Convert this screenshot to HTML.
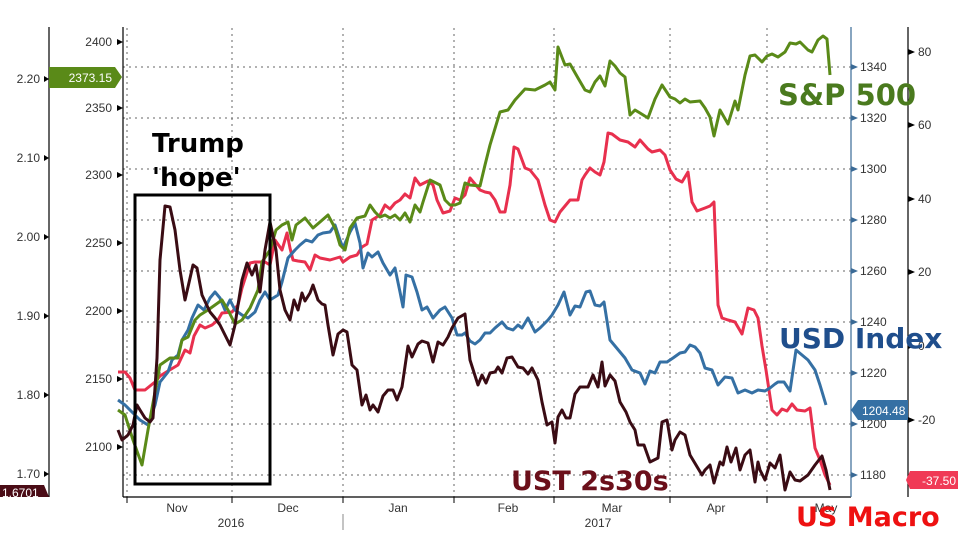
<!DOCTYPE html>
<html><head><meta charset="utf-8"><style>
body{margin:0;background:#fff;}
svg{display:block;font-family:"Liberation Sans",sans-serif;}
</style></head><body>
<svg width="969" height="540" viewBox="0 0 969 540">
<rect width="969" height="540" fill="#fff"/>
<g stroke="#666" stroke-width="1" stroke-dasharray="2,4">
<line x1="123" x2="851" y1="67" y2="67"/><line x1="123" x2="851" y1="118" y2="118"/><line x1="123" x2="851" y1="169" y2="169"/><line x1="123" x2="851" y1="220" y2="220"/><line x1="123" x2="851" y1="271" y2="271"/><line x1="123" x2="851" y1="322" y2="322"/><line x1="123" x2="851" y1="373" y2="373"/><line x1="123" x2="851" y1="424" y2="424"/><line x1="123" x2="851" y1="475" y2="475"/>
<line x1="127" x2="127" y1="28" y2="497"/><line x1="232" x2="232" y1="28" y2="497"/><line x1="343" x2="343" y1="28" y2="497"/><line x1="454" x2="454" y1="28" y2="497"/><line x1="554" x2="554" y1="28" y2="497"/><line x1="670" x2="670" y1="28" y2="497"/><line x1="767" x2="767" y1="28" y2="497"/>
</g>
<!-- axes -->
<g stroke="#000" stroke-width="1.2" fill="none">
<line x1="49" y1="27" x2="49" y2="497"/><line x1="123" y1="27" x2="123" y2="497"/><line x1="123" y1="497" x2="851" y2="497"/><line x1="908" y1="27" x2="908" y2="497"/>
</g>
<line x1="851" y1="27" x2="851" y2="497" stroke="#3a6a96" stroke-width="1.2"/>
<g stroke="#000" stroke-width="1">
<line x1="127" x2="127" y1="497" y2="503"/><line x1="232" x2="232" y1="497" y2="503"/><line x1="343" x2="343" y1="497" y2="503"/><line x1="454" x2="454" y1="497" y2="503"/><line x1="554" x2="554" y1="497" y2="503"/><line x1="670" x2="670" y1="497" y2="503"/><line x1="767" x2="767" y1="497" y2="503"/>
<line x1="343" x2="343" y1="514" y2="530" stroke="#888"/>
</g>
<g font-size="12" fill="#333">
<text x="177" y="512" text-anchor="middle">Nov</text><text x="288" y="512" text-anchor="middle">Dec</text><text x="398" y="512" text-anchor="middle">Jan</text><text x="508" y="512" text-anchor="middle">Feb</text><text x="612" y="512" text-anchor="middle">Mar</text><text x="716" y="512" text-anchor="middle">Apr</text><text x="826" y="512" text-anchor="middle">May</text>
<text x="231" y="527" text-anchor="middle">2016</text><text x="598" y="527" text-anchor="middle">2017</text>
</g>
<!-- left axis -->
<g font-size="12" fill="#333" text-anchor="end">
<text x="40" y="83">2.20</text><text x="40" y="162">2.10</text><text x="40" y="241">2.00</text><text x="40" y="320">1.90</text><text x="40" y="399">1.80</text><text x="40" y="478">1.70</text>
<text x="112" y="46">2400</text><text x="112" y="112">2350</text><text x="112" y="179">2300</text><text x="112" y="247">2250</text><text x="112" y="315">2200</text><text x="112" y="383">2150</text><text x="112" y="451">2100</text>
</g>
<g fill="#000">
<polygon points="49,79 44,76 44,82"/><polygon points="49,158 44,155 44,161"/><polygon points="49,237 44,234 44,240"/><polygon points="49,316 44,313 44,319"/><polygon points="49,395 44,392 44,398"/><polygon points="49,474 44,471 44,477"/>
<polygon points="123,42 117,39 117,45"/><polygon points="123,108 117,105 117,111"/><polygon points="123,175 117,172 117,178"/><polygon points="123,243 117,240 117,246"/><polygon points="123,311 117,308 117,314"/><polygon points="123,379 117,376 117,382"/><polygon points="123,447 117,444 117,450"/>
</g>
<g font-size="12" fill="#333">
<text x="860" y="71">1340</text><text x="860" y="122">1320</text><text x="860" y="173">1300</text><text x="860" y="224">1280</text><text x="860" y="275">1260</text><text x="860" y="326">1240</text><text x="860" y="377">1220</text><text x="860" y="428">1200</text><text x="860" y="479">1180</text>
<text x="918" y="56">80</text><text x="918" y="129">60</text><text x="918" y="203">40</text><text x="918" y="276">20</text><text x="918" y="350">0</text><text x="918" y="424">-20</text>
</g>
<g fill="#3a6a96"><polygon points="851,64 858,67 851,70"/><polygon points="851,115 858,118 851,121"/><polygon points="851,166 858,169 851,172"/><polygon points="851,217 858,220 851,223"/><polygon points="851,268 858,271 851,274"/><polygon points="851,319 858,322 851,325"/><polygon points="851,370 858,373 851,376"/><polygon points="851,421 858,424 851,427"/><polygon points="851,472 858,475 851,478"/></g>
<g fill="#000"><polygon points="908,49 915,52 908,55"/><polygon points="908,122 915,125 908,128"/><polygon points="908,196 915,199 908,202"/><polygon points="908,269 915,272 908,275"/><polygon points="908,343 915,346 908,349"/><polygon points="908,417 915,420 908,423"/></g>
<!-- series -->
<g fill="none" stroke-width="3" stroke-linejoin="round">
<polyline stroke="#e8304e" points="118,372 125,372 130,378 135,390 145,390 155,382 160,376 168,371 178,365 185,350 190,353 194,336 200,325 205,328 212,325 218,320 222,313 232,312 238,305 242,288 250,263 255,262 265,262 270,265 275,240 282,250 287,233 290,248 293,260 298,261 305,262 310,270 315,255 320,258 330,260 340,257 343,262 350,257 357,255 362,247 367,244 372,220 380,215 385,205 390,209 395,203 400,200 405,194 410,198 415,178 420,185 428,181 433,185 437,200 443,213 450,211 455,198 460,200 465,195 470,178 480,190 485,192 490,193 495,200 500,212 505,212 510,185 514,147 518,149 525,168 530,170 538,180 545,205 550,220 555,222 560,212 565,206 570,200 578,200 582,180 585,175 590,168 595,172 600,175 604,162 608,133 612,134 620,140 628,142 635,147 640,140 648,149 652,152 660,150 665,155 670,170 676,179 682,182 688,172 692,202 697,211 705,208 710,206 714,202 718,305 722,318 728,320 735,322 742,334 748,308 754,310 758,318 762,346 766,370 772,410 777,415 782,409 787,411 792,404 797,410 805,411 810,408 815,448 820,460 825,475 830,485"/>
<polyline stroke="#3570a4" points="118,400 125,405 135,415 140,420 148,425 155,405 160,382 168,372 172,360 178,355 182,340 188,330 192,318 198,305 204,310 210,298 215,292 220,298 225,310 230,300 235,310 242,315 248,318 255,312 260,300 265,292 270,300 278,295 282,282 288,258 295,250 300,245 306,240 312,242 318,235 323,233 330,232 335,225 340,240 343,248 350,232 355,223 360,243 363,268 368,253 372,257 378,252 383,263 390,275 395,268 400,292 403,307 406,275 412,277 417,292 422,310 427,307 433,318 440,310 445,307 452,318 457,335 462,335 465,333 470,341 475,344 480,340 485,333 490,333 495,328 502,322 507,328 513,330 518,325 522,328 528,318 535,332 540,328 548,320 552,315 558,305 564,292 570,315 575,306 580,307 586,292 590,291 595,305 600,306 604,302 610,340 620,352 625,358 632,370 640,373 645,384 650,371 655,373 660,362 667,362 673,358 680,353 685,352 690,345 695,347 700,353 705,368 712,370 718,385 725,377 732,378 738,393 745,390 752,393 758,390 765,391 770,388 775,384 778,382 784,382 790,391 796,350 802,355 808,360 815,370 820,385 826,405"/>
<polyline stroke="#5a8a18" points="118,410 125,415 133,440 142,465 148,430 160,365 170,358 178,358 182,340 188,337 195,320 200,315 208,310 215,305 222,300 228,310 235,324 242,320 250,308 258,290 262,262 270,250 276,230 282,225 288,222 292,240 296,225 305,218 313,228 320,222 328,215 335,228 340,245 345,250 350,228 357,218 365,216 370,205 375,212 380,217 385,215 390,218 395,215 400,220 405,213 410,222 415,205 420,212 423,202 430,180 440,185 445,200 450,205 455,205 460,203 465,183 470,185 480,186 485,165 490,145 500,112 508,110 515,100 525,89 535,90 545,85 550,82 555,90 558,47 565,65 570,64 578,78 585,90 590,92 595,82 600,76 605,86 610,61 615,66 620,73 625,77 630,115 635,110 640,113 648,118 655,99 662,85 670,97 675,99 680,103 685,99 690,102 700,101 705,108 710,117 714,136 720,110 728,124 735,101 738,110 745,75 750,56 755,55 762,62 767,56 772,54 778,57 785,52 790,43 796,44 800,42 808,50 812,52 818,40 823,36 827,39 830,75"/>
<polyline stroke="#3a0c14" points="118,430 122,440 128,435 133,425 137,405 140,410 145,418 150,422 153,418 157,358 160,260 165,206 170,207 175,230 180,270 185,300 188,287 193,265 197,268 202,295 210,312 215,318 220,325 225,335 230,345 235,325 238,305 242,280 247,263 252,275 256,265 260,292 265,250 270,222 276,250 280,290 285,310 290,320 294,300 298,310 302,293 305,301 310,293 313,285 318,300 322,304 325,305 328,325 333,355 338,334 343,330 347,332 352,365 357,370 362,405 366,395 370,410 373,405 378,412 383,396 388,390 393,390 397,400 402,387 408,346 412,357 418,344 422,341 428,343 433,362 438,342 443,345 448,337 452,328 458,318 465,314 470,360 478,385 482,375 486,383 490,373 495,372 498,367 502,373 507,358 512,357 518,367 523,368 528,374 532,368 538,380 542,402 547,425 552,422 555,443 558,417 562,410 566,418 570,418 575,394 580,387 588,387 593,375 598,387 602,362 605,386 610,375 615,381 620,402 626,412 630,422 635,430 638,445 644,445 650,462 658,458 662,422 667,420 672,450 675,440 680,432 685,435 690,455 696,465 702,475 705,470 710,465 714,483 720,462 723,465 727,447 731,462 736,448 740,470 745,455 750,450 755,482 758,462 760,470 765,480 770,463 775,468 780,455 785,490 790,472 795,480 800,481 808,475 815,465 822,456 826,470 830,490"/>
</g>
<!-- badges -->
<polygon points="49,67 115,67 122,77 115,88 49,88" fill="#5a8a18"/>
<text x="112" y="82" font-size="12" fill="#fff" text-anchor="end">2373.15</text>
<polygon points="0,485 44,485 49,497 0,497" fill="#4a0c16"/>
<text x="2" y="497" font-size="12" fill="#fff">1.6701</text>
<polygon points="851,410 858,400 908,400 908,420 858,420" fill="#3570a4"/>
<text x="862" y="415" font-size="12" fill="#fff">1204.48</text>
<polygon points="910,471 958,471 958,489 910,489 906,480" fill="#f03a56"/>
<text x="922" y="485" font-size="12" fill="#fff">-37.50</text>
<!-- annotations -->
<rect x="135" y="195" width="135" height="289" fill="none" stroke="#000" stroke-width="3"/>
<g font-weight="bold" font-family="'DejaVu Sans',sans-serif">
<text x="152" y="152" font-size="26" fill="#000">Trump</text>
<text x="152" y="186" font-size="26" fill="#000">'hope'</text>
<text x="778" y="105" font-size="29" fill="#4a7a1e">S&amp;P 500</text>
<text x="779" y="348" font-size="28" fill="#1f4e8c">USD Index</text>
<text x="511" y="490" font-size="27" fill="#6b0f1a">UST 2s30s</text>
<text x="796" y="526" font-size="27" fill="#ee1111">US Macro</text>
</g>
</svg>
</body></html>
